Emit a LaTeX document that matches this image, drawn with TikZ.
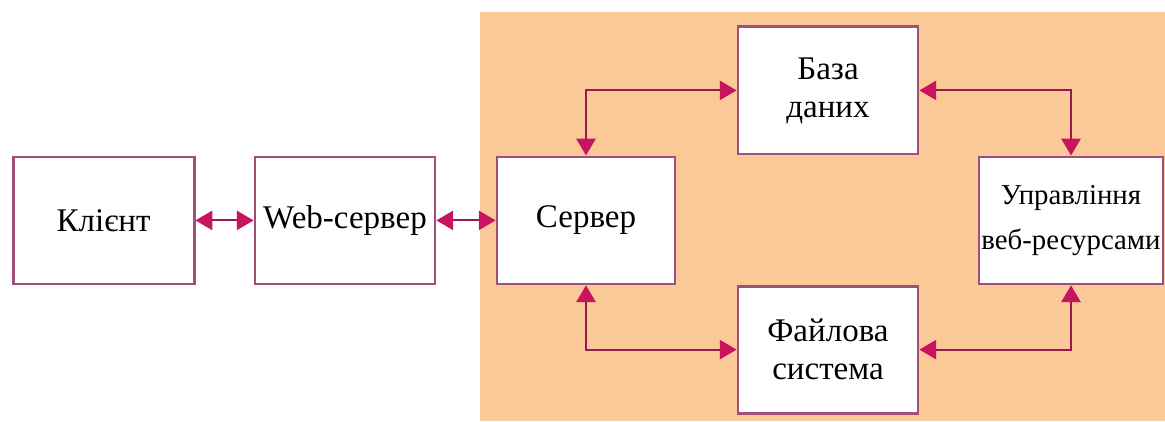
\documentclass[tikz,border=0pt]{standalone}
\usepackage{fontspec}
\setmainfont{Liberation Serif}
\usetikzlibrary{arrows.meta}

\definecolor{peach}{RGB}{251,200,152}
\definecolor{boxline}{RGB}{160,80,120}
\definecolor{tipred}{RGB}{200,20,95}
\definecolor{shaft}{RGB}{150,25,80}

\tikzset{
  block/.style={draw=boxline, line width=2pt, fill=white, align=center,
    minimum width=4.5cm, minimum height=3.175cm, inner sep=0pt,
    font=\fontsize{23.5}{27}\selectfont},
  link/.style={draw=shaft, line width=1.5pt,
    {Triangle[width=0.48cm, length=0.42cm, color=tipred]}-{Triangle[width=0.48cm, length=0.42cm, color=tipred]}}
}

\begin{document}
\begin{tikzpicture}
  \useasboundingbox (0cm,0cm) rectangle (29.125cm,-10.525cm);
  \filldraw[fill=white, draw=none] (0cm,0cm) rectangle (29.125cm,-10.525cm);
  \filldraw[fill=peach, draw=none] (12cm,-0.3cm) rectangle (29.125cm,-10.525cm);
  \node[block, minimum width=4.525cm] (klient) at (2.59cm,-5.51cm) {Клієнт};
  \node[block] (webserver) at (8.625cm,-5.51cm) {Web-сервер};
  \node[block, minimum width=4.45cm] (server) at (14.65cm,-5.51cm) {Сервер};
  \node[block] (baza) at (20.7cm,-2.26cm) {База\\даних};
  \node[block, minimum width=4.6cm, font=\fontsize{20.5}{32}\selectfont] (upravl) at (26.775cm,-5.51cm) {Управління\\веб-ресурсами};
  \node[block] (fajl) at (20.7cm,-8.74cm) {Файлова\\система};
  \draw[link] (klient) -- (webserver);
  \draw[link] (webserver) -- (server);
  \draw[link] (server.north) |- (baza.west);
  \draw[link] (baza.east) -| (upravl.north);
  \draw[link] (server.south) |- (fajl.west);
  \draw[link] (fajl.east) -| (upravl.south);
\end{tikzpicture}
\end{document}
